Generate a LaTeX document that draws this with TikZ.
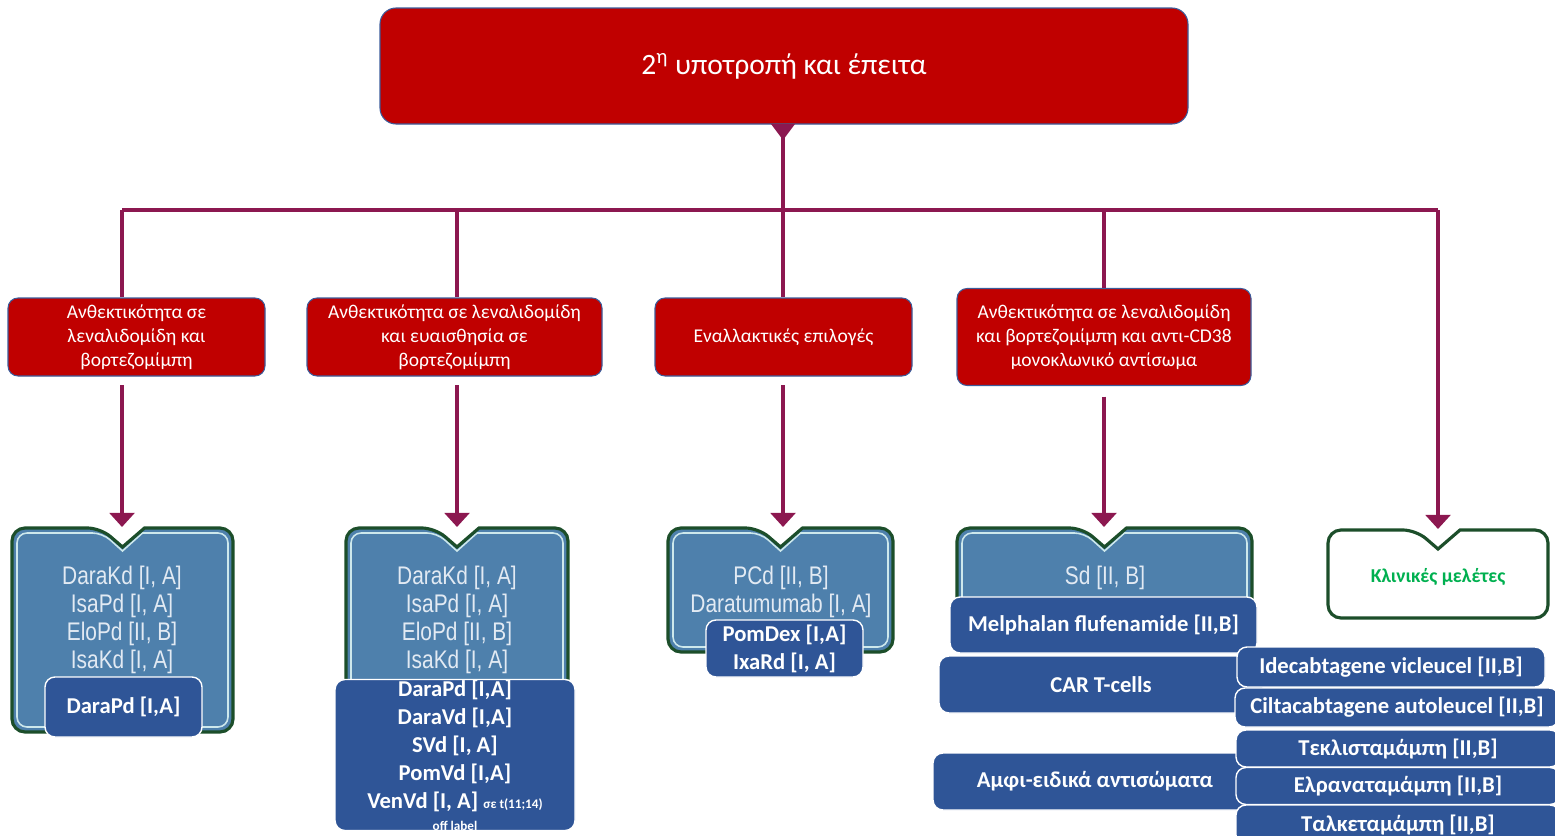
\documentclass[tikz,border=0pt]{standalone}
\usepackage{fontspec}
\setmainfont{Carlito}
\newfontfamily\narrowfont[FakeStretch=0.82]{Liberation Sans}
\usepackage{tikz}
\usetikzlibrary{calc, positioning, arrows.meta}

\definecolor{relapsered}{RGB}{192,0,0}
\definecolor{edgeblue}{RGB}{60,92,155}
\definecolor{linkplum}{RGB}{140,24,80}
\definecolor{stepfill}{RGB}{78,128,172}
\definecolor{rimgreen}{RGB}{28,78,42}
\definecolor{rimlight}{RGB}{205,232,236}
\definecolor{drugblue}{RGB}{47,85,151}
\definecolor{trialgreen}{RGB}{0,176,80}
\definecolor{oldtext}{RGB}{226,234,243}

\newcommand{\px}{0.02cm}
\newcommand{\notefont}{\bfseries\fontsize{7.5}{9}\selectfont}
% notched box: name, x1, y1, x2, y2, fill, inner rim
\newcommand{\stepbox}[7]{%
  \pgfmathsetmacro{\cx}{(#2+#4)/2}
  \path[fill=#6, rounded corners=0.26cm] (#2,{(#3+#5)/2}) -- (#2,#3) -- ({\cx-22},#3)
    [sharp corners] -- (\cx,#3+19) -- ({\cx+22},#3) [rounded corners=0.26cm] -- (#4,#3)
    -- (#4,#5) -- (#2,#5) -- cycle;
  \draw[#7, line width=0.9pt, rounded corners=0.2cm] (#2+5,{(#3+#5)/2}) -- (#2+5,#3+5)
    -- ({\cx-20},#3+5) [sharp corners] -- (\cx,#3+23) -- ({\cx+20},#3+5)
    [rounded corners=0.2cm] -- (#4-5,#3+5) -- (#4-5,#5-5) -- (#2+5,#5-5) -- cycle;
  \draw[rimgreen, line width=1.8pt, rounded corners=0.26cm] (#2,{(#3+#5)/2}) -- (#2,#3)
    -- ({\cx-22},#3) [sharp corners] -- (\cx,#3+19) -- ({\cx+22},#3)
    [rounded corners=0.26cm] -- (#4,#3) -- (#4,#5) -- (#2,#5) -- cycle;
  \coordinate (#1) at (\cx,#3-1);
}

\begin{document}
\begin{tikzpicture}[x=0.02cm, y=-0.02cm,
  >={Triangle[width=14pt,length=8pt]},
  link/.style={draw=linkplum, line width=2.2pt},
  headbox/.style={fill=relapsered, draw=edgeblue, line width=0.6pt, rounded corners=0.32cm,
    text=white, font=\fontsize{16.8}{19}\selectfont, minimum width=808*\px, minimum height=116*\px},
  redbox/.style={fill=relapsered, draw=edgeblue, line width=0.6pt, rounded corners=0.2cm,
    text=white, align=center, font=\fontsize{11.1}{13.7}\selectfont, inner sep=0pt},
  drugbox/.style={fill=drugblue, draw=white, line width=0.8pt, rounded corners=0.2cm,
    text=white, align=center, font=\bfseries\fontsize{12.9}{16}\selectfont, inner sep=0pt},
  oldlist/.style={text=oldtext, align=center, font=\narrowfont\fontsize{14.5}{16}\selectfont}]
  \useasboundingbox (0,0) rectangle (1555,835);

  % top box and bus
  \node[headbox] (title) at (784,66) {2\textsuperscript{η} υποτροπή και έπειτα};
  \fill[linkplum] (771,124) -- (795,124) -- (783,140) -- cycle;
  \coordinate (b1) at (122,210);
  \coordinate (b2) at (457,210);
  \coordinate (b3) at (783,210);
  \coordinate (b4) at (1104,210);
  \coordinate (b5) at (1438,210);
  \draw[link] (b3 |- title.south) -- (b3);
  \draw[link] (b1) -- (b5);

  % second level
  \node[redbox, minimum width=257*\px, minimum height=78*\px] (r1) at (136.5,337)
    {Ανθεκτικότητα σε\\λεναλιδομίδη και\\βορτεζομίμπη};
  \node[redbox, minimum width=295*\px, minimum height=78*\px] (r2) at (454.5,337)
    {Ανθεκτικότητα σε λεναλιδομίδη\\και ευαισθησία σε\\βορτεζομίμπη};
  \node[redbox, minimum width=257*\px, minimum height=78*\px] (r3) at (783.5,337)
    {Εναλλακτικές επιλογές};
  \node[redbox, minimum width=294*\px, minimum height=97*\px] (r4) at (1104,337)
    {Ανθεκτικότητα σε λεναλιδομίδη\\και βορτεζομίμπη και αντι-CD38\\μονοκλωνικό αντίσωμα};
  \draw[link] (b1) -- (b1 |- r1.north);
  \draw[link] (b2) -- (b2 |- r2.north);
  \draw[link] (b3) -- (b3 |- r3.north);
  \draw[link] (b4) -- (b4 |- r4.north);

  % notched boxes
  \stepbox{g1}{12}{528}{233}{732}{stepfill}{rimlight}
  \stepbox{g2}{346}{528}{568}{720}{stepfill}{rimlight}
  \stepbox{g3}{668}{528}{893}{652}{stepfill}{rimlight}
  \stepbox{g4}{957}{528}{1252}{620}{stepfill}{rimlight}
  \stepbox{g5}{1328}{530}{1548}{618}{white}{white}

  \draw[link, ->, shorten <=5pt] (b1 |- r1.south) -- (b1 |- g1);
  \draw[link, ->, shorten <=5pt] (b2 |- r2.south) -- (b2 |- g2);
  \draw[link, ->, shorten <=5pt] (b3 |- r3.south) -- (b3 |- g3);
  \draw[link, ->, shorten <=6pt] (b4 |- r4.south) -- (b4 |- g4);
  \draw[link, ->] (b5) -- (b5 |- g5);

  \node[oldlist] (old1) at (122,620) {DaraKd [I, A]\\IsaPd [I, A]\\EloPd [II, B]\\IsaKd [I, A]};
  \node[oldlist] (old2) at (457,620) {DaraKd [I, A]\\IsaPd [I, A]\\EloPd [II, B]\\IsaKd [I, A]};
  \node[oldlist] (old3) at (781,592) {PCd [II, B]\\Daratumumab [I, A]};
  \node[oldlist] (old4) at (1105,578) {Sd [II, B]};
  \node[text=trialgreen, font=\bfseries\fontsize{11.2}{13}\selectfont] (trials) at (1438,577)
    {Κλινικές μελέτες};

  % newer options
  \node[drugbox, minimum width=157*\px, minimum height=60*\px] (new1) at (123.5,707) {DaraPd [I,A]};
  \node[drugbox, minimum width=240*\px, minimum height=150*\px] (new2) at (455,755)
    {DaraPd [I,A]\\DaraVd [I,A]\\SVd [I, A]\\PomVd [I,A]\\VenVd [I, A] {\notefont σε t(11;14)}\\[-3.5pt]
     {\notefont off label}};
  \node[drugbox, minimum width=157*\px, minimum height=57*\px] (new3) at (784.5,648.5)
    {PomDex [I,A]\\IxaRd [I, A]};
  \node[drugbox, minimum width=307*\px, minimum height=56*\px] (melflu) at (1103.5,625)
    {Melphalan flufenamide [II,B]};
  \node[drugbox, minimum width=324*\px, minimum height=57*\px] (cart) at (1101,684.5) {CAR T-cells};
  \node[drugbox, minimum width=324*\px, minimum height=57*\px] (bispec) at (1095,781.5)
    {Αμφι-ειδικά αντισώματα};
  \node[drugbox, minimum width=308*\px, minimum height=40*\px] (idecel) at (1391,667)
    {Idecabtagene vicleucel [II,B]};
  \node[drugbox, minimum width=324*\px, minimum height=39*\px] (ciltacel) at (1397,707.5)
    {Ciltacabtagene autoleucel [II,B]};
  \node[drugbox, minimum width=324*\px, minimum height=37*\px] (teclis) at (1398,748.5)
    {Τεκλισταμάμπη [II,B]};
  \node[drugbox, minimum width=324*\px, minimum height=37*\px] (elran) at (1398,786)
    {Ελραναταμάμπη [II,B]};
  \node[drugbox, minimum width=324*\px, minimum height=40*\px] (talquet) at (1398,825)
    {Ταλκεταμάμπη [II,B]};
\end{tikzpicture}
\end{document}
